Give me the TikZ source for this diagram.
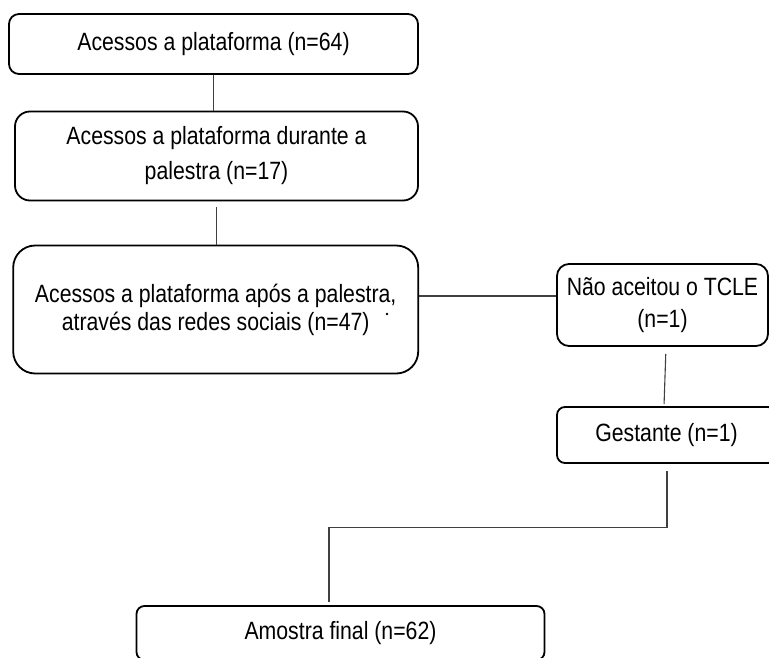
\documentclass[tikz,border=0pt]{standalone}
\usepackage{fontspec}
\setmainfont{Liberation Sans}[FakeStretch=0.85]
\usetikzlibrary{positioning}

\tikzset{
  flowbox/.style={draw, line width=1.8pt, align=center, inner sep=0pt,
    font=\fontsize{25pt}{32pt}\selectfont},
  link/.style={line width=1.1pt, draw=black!75},
}

\begin{document}
\begin{tikzpicture}[x=1pt,y=-1pt]
\useasboundingbox (0,0) rectangle (769,658);
\clip (0,0) rectangle (769,658);

% boxes
\node[flowbox, rounded corners=10pt, minimum width=409pt, minimum height=60pt]
  (acessos) at (213.5,44) {Acessos a plataforma (n=64)};
\node[flowbox, rounded corners=15pt, minimum width=403pt, minimum height=89pt,
  font=\fontsize{25pt}{35pt}\selectfont]
  (durante) at (216.5,156) {Acessos a plataforma durante a\\palestra (n=17)};
\node[flowbox, rounded corners=22pt, minimum width=405pt, minimum height=128pt,
  font=\fontsize{25pt}{28pt}\selectfont]
  (apos) at (215.7,309.5) {Acessos a plataforma após a palestra,\\através das redes sociais (n=47)};
\coordinate (ponto) at (387,314);
\fill (ponto) circle (1.3pt);
\node[flowbox, rounded corners=12pt, minimum width=211pt, minimum height=82pt]
  (tcle) at (662.5,305) {Não aceitou o TCLE\\(n=1)};
\node[flowbox, rounded corners=8pt, minimum width=219pt, minimum height=56pt]
  (gestante) at (666.5,435) {Gestante (n=1)};
\node[flowbox, rounded corners=8pt, minimum width=408pt, minimum height=54pt]
  (amostra) at (340.5,633) {Amostra final (n=62)};

% connectors
\draw[link] (acessos.south) -- (acessos.south |- durante.north);
\draw[link, shorten <=6pt] (durante.south) -- (durante.south |- apos.north);
\draw[link] ([yshift=9pt]tcle.west) -- ([yshift=9pt]tcle.west -| apos.east);
\draw[link, shorten <=7pt, shorten >=2pt] ([xshift=3.5pt]tcle.south) -- ([xshift=-2.5pt]gestante.north);
\draw[link, shorten <=7pt, shorten >=3pt] ([xshift=0.5pt]gestante.south) -- ++(0,64)
  -| ([xshift=-11.5pt]amostra.north);
\end{tikzpicture}
\end{document}
